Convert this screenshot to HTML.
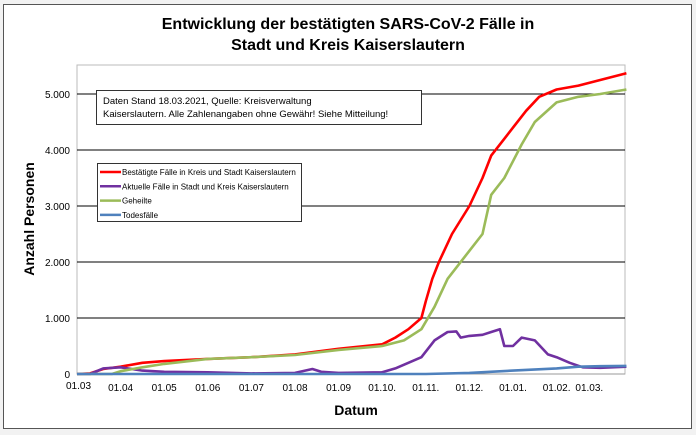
<!DOCTYPE html>
<html><head><meta charset="utf-8"><style>
body{margin:0;background:#f2f2f2;}
svg{display:block;font-family:"Liberation Sans",sans-serif;}
</style></head><body>
<svg id="c" width="696" height="435">
<rect x="3.5" y="4.5" width="688" height="424" fill="#fff" stroke="#555"/>
<text x="348" y="29" text-anchor="middle" font-size="16" font-weight="bold">Entwicklung der bestätigten SARS-CoV-2 Fälle in</text>
<text x="348" y="50" text-anchor="middle" font-size="16" font-weight="bold">Stadt und Kreis Kaiserslautern</text>
<rect x="77" y="65" width="548" height="309" fill="none" stroke="#bbb"/>
<g id="grid"></g><g id="series"></g>
<text transform="translate(34,219) rotate(-90)" text-anchor="middle" font-size="14" font-weight="bold">Anzahl Personen</text>
<text x="356" y="415" text-anchor="middle" font-size="14" font-weight="bold">Datum</text>
<g>
<rect x="96.5" y="90.5" width="325" height="34" fill="#fff" stroke="#333"/>
<text x="103" y="104" font-size="9.5">Daten Stand 18.03.2021, Quelle: Kreisverwaltung</text>
<text x="103" y="117" font-size="9.5">Kaiserslautern. Alle Zahlenangaben ohne Gewähr! Siehe Mitteilung!</text>
</g>
<g id="legend">
<rect x="97.5" y="163.5" width="204" height="58" fill="#fff" stroke="#333"/>
</g>
</svg>
<script>
const yTicks=[0,1000,2000,3000,4000,5000];
const yTickLabels=["0","1.000","2.000","3.000","4.000","5.000"];
const xTicks=[0,1,2,3,4,5,6,7,8,9,10,11,11.75];
const xTickLabels=["01.03","01.04","01.05","01.06","01.07","01.08","01.09","01.10.","01.11.","01.12.","01.01.","01.02.","01.03."];
const seriesNames=["Bestätigte Fälle in Kreis und Stadt Kaiserslautern","Aktuelle Fälle in Stadt und Kreis Kaiserslautern","Geheilte","Todesfälle"];
const confirmedT=[0,0.3,0.6,1,1.5,2,3,4,5,6,7,7.3,7.6,7.9,8,8.15,8.3,8.6,9,9.3,9.5,9.8,10,10.3,10.6,11,11.5,12,12.6];
const confirmedV=[0,10,90,130,200,230,270,300,350,450,530,650,800,1000,1300,1700,2000,2500,3000,3500,3900,4200,4400,4700,4950,5080,5150,5250,5370];
const recoveredT=[0,0.8,1,1.5,2,3,4,5,6,7,7.5,7.9,8.2,8.5,9,9.3,9.5,9.8,10,10.2,10.5,11,11.5,12,12.6];
const recoveredV=[0,0,50,120,180,270,300,340,430,500,600,800,1200,1700,2200,2500,3200,3500,3800,4100,4500,4850,4950,5000,5080];
const activeT=[0,0.3,0.6,1,1.5,2,3,4,5,5.4,5.6,6,7,7.3,7.6,7.9,8.2,8.5,8.7,8.8,9,9.3,9.5,9.7,9.8,10,10.2,10.5,10.8,11,11.3,11.6,12,12.6];
const activeV=[0,0,100,120,60,40,30,10,20,90,40,20,30,100,200,300,600,750,760,650,680,700,750,800,500,500,650,600,350,300,200,120,110,130];
const deathsT=[0,8,9,10,11,11.5,12,12.6];
const deathsV=[0,0,20,60,100,130,140,145];
const colors=["#ff0000","#7030a0","#9bbb59","#4f81bd"];
const X=m=>77+m*43.6, Y=v=>374-v*0.056;
const NS="http://www.w3.org/2000/svg";
const g=document.getElementById('grid'),s=document.getElementById('series'),lg=document.getElementById('legend');
function mk(tag,a,p){const e=document.createElementNS(NS,tag);for(const k in a)e.setAttribute(k,a[k]);p.appendChild(e);return e;}
yTicks.forEach((v,i)=>{
 const l=mk('line',{x1:77,x2:625,y1:Y(v),y2:Y(v),stroke:i?'#000':'#999','stroke-width':1},g);
 
 
 const t=mk('text',{x:70,y:Y(v)+4,'text-anchor':'end','font-size':10},g);t.textContent=yTickLabels[i];
 
 
});
xTicks.forEach((m,i)=>{
 const t=mk('text',{x:X(m),y:(i?391:389),'text-anchor':i?'middle':'start','font-size':10},g);
 if(i===0)t.setAttribute('x',66);
 t.textContent=xTickLabels[i];
 
 
});
[[confirmedT,confirmedV],[activeT,activeV],[recoveredT,recoveredV],[deathsT,deathsV]].forEach((d,i)=>{
 const pts=d[0].map((m,j)=>X(m).toFixed(1)+','+Y(d[1][j]).toFixed(1)).join(' ');
 const p=mk('polyline',{points:pts,fill:'none',stroke:colors[i],'stroke-width':2.6,'stroke-linejoin':'round'},s);
 
 
});
seriesNames.forEach((n,i)=>{
 const y=172+i*14.3;
 const l=mk('line',{x1:100,x2:121,y1:y,y2:y,stroke:colors[i],'stroke-width':2.5},lg);
 
 
 const t=mk('text',{x:122,y:y+3,'font-size':8},lg);t.textContent=n;
 
 
});
</script>
</body></html>
